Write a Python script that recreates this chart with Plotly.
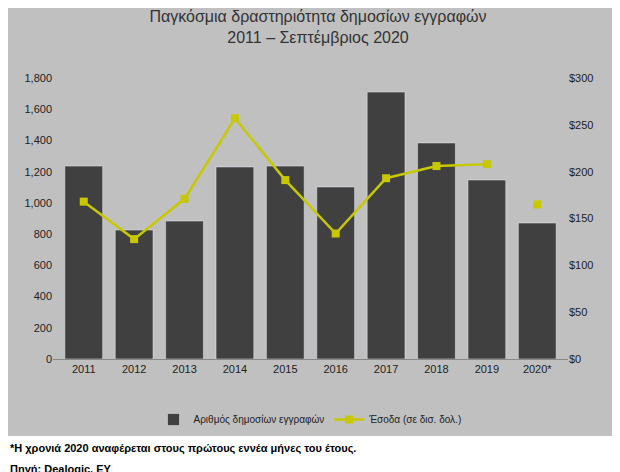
import plotly.graph_objects as go

years = ["2011","2012","2013","2014","2015","2016","2017","2018","2019","2020*"]
deals = [1236, 826, 884, 1230, 1236, 1102, 1710, 1384, 1147, 871]
proceeds = [168, 128, 171, 257, 191, 134, 193, 206, 208, None]
proceeds_2020 = [None]*9 + [165]

GRAY = "#c0c0c0"
LINE = "#c8c800"
fig = go.Figure()
fig.add_bar(x=years, y=deals, name="Αριθμός δημοσίων εγγραφών", marker_color="#404040", width=0.75)
fig.add_scatter(x=years, y=proceeds, name="Έσοδα (σε δισ. δολ.)", yaxis="y2", mode="lines+markers",
                line=dict(color=LINE, width=2.5), marker=dict(symbol="square", size=8, color=LINE))
fig.add_scatter(x=years, y=proceeds_2020, showlegend=False, yaxis="y2", mode="markers",
                marker=dict(symbol="square", size=8, color=LINE))

L, R, T, B = 45, 60, 70, 121
pw, ph = 620-L-R, 472-T-B
top = 70; bot = 351
fig.add_shape(type="rect", xref="paper", yref="paper", x0=-L/pw, x1=1+R/pw, y0=-(428-bot)/ph, y1=1+(top)/ph,
              fillcolor=GRAY, line_width=0, layer="below")
fig.update_layout(
    width=620, height=472, margin=dict(l=L, r=R, t=T, b=B, autoexpand=False),
    paper_bgcolor="white", plot_bgcolor=GRAY,
    font=dict(family="Liberation Sans, Arial", size=11, color="#222"),
    title=dict(text="Παγκόσμια δραστηριότητα δημοσίων εγγραφών<br>2011 – Σεπτέμβριος 2020",
               x=0.5, xanchor="center", y=0.97, yanchor="top", font=dict(size=16, color="#333")),
    xaxis=dict(showline=True, linecolor="#888", ticks="", tickfont=dict(size=11)),
    yaxis=dict(range=[0,1800], dtick=200, tickformat=",", showgrid=False, zeroline=False),
    yaxis2=dict(range=[0,300], dtick=50, tickprefix="$", overlaying="y", side="right", showgrid=False),
    legend=dict(orientation="h", x=0.5, xanchor="center", y=-(397-bot)/ph, yanchor="top", bgcolor="rgba(0,0,0,0)",
                font=dict(size=10)),
    bargap=0.25,
)
fig.add_annotation(text="<b>*Η χρονιά 2020 αναφέρεται στους πρώτους εννέα μήνες του έτους.</b>", xref="paper", yref="paper",
                   x=-L/pw, xanchor="left", y=-(440-bot)/ph, yanchor="middle", showarrow=False, font=dict(size=11, color="black"))
fig.add_annotation(text="<b>Πηγή: Dealogic, EY</b>", xref="paper", yref="paper",
                   x=-L/pw, xanchor="left", y=-(461-bot)/ph, yanchor="middle", showarrow=False, font=dict(size=11, color="black"))
fig.write_html("out.html")
